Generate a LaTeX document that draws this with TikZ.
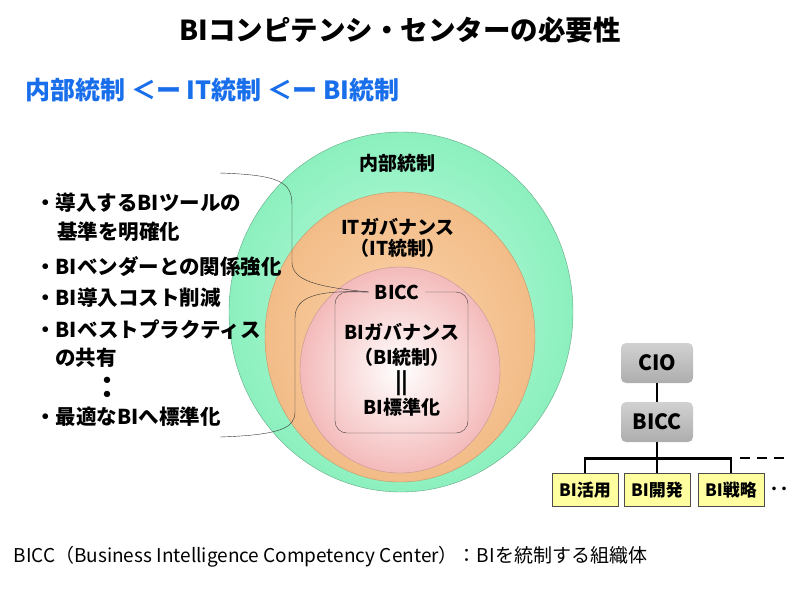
\documentclass[tikz,border=0pt]{standalone}
\usepackage{fontspec}
\setmainfont{Noto Sans CJK JP}
\definecolor{mint}{RGB}{140,240,190}
\definecolor{mintlight}{RGB}{190,252,222}
\definecolor{peach}{RGB}{242,188,135}
\definecolor{peachlight}{RGB}{252,212,172}
\definecolor{rose}{RGB}{244,186,186}
\definecolor{chainblue}{RGB}{25,110,235}
\definecolor{unityellow}{RGB}{255,255,160}

\begin{document}
\begin{tikzpicture}[x=1pt,y=-1pt,
    circlbl/.style={font=\bfseries\fontsize{19}{21}\selectfont, align=center},
    item/.style={anchor=west, inner sep=0pt, font=\bfseries\fontsize{20.5}{22}\selectfont},
    orgbox/.style={top color=black!18, bottom color=black!32, rounded corners=5pt,
        minimum width=72, minimum height=40, font=\bfseries\fontsize{21}{24}\selectfont},
    unitbox/.style={draw=black!70, fill=unityellow, minimum width=66, minimum height=33,
        inner sep=1pt, font=\bfseries\fontsize{17}{20}\selectfont},
    orgline/.style={line width=2.5pt}]
    \useasboundingbox (0,0) rectangle (800,600);

    % headings
    \node[font=\bfseries\fontsize{27.5}{30}\selectfont] (title) at (400,30) {BIコンピテンシ・センターの必要性};
    \node[anchor=west, text=chainblue, font=\bfseries\fontsize{25}{28}\selectfont] (chain) at (22,90) {内部統制\ ＜ー\ IT統制\ ＜ー\ BI統制};

    % nested circles
    \shade[inner color=mintlight, outer color=mint] (401,312) ellipse [x radius=172, y radius=180];
    \draw[mint!70!black, line width=0.4pt] (401,312) ellipse [x radius=172, y radius=180];
    \shade[inner color=peachlight, outer color=peach] (400,337) ellipse [x radius=135, y radius=145];
    \draw[peach!80!black, line width=0.4pt] (400,337) ellipse [x radius=135, y radius=145];
    \shade[inner color=white, outer color=rose] (400,370) ellipse [x radius=100, y radius=103];
    \draw[rose!80!black, line width=0.4pt] (400,370) ellipse [x radius=100, y radius=103];

    \node[circlbl] (naibu) at (397,163) {内部統制};
    \node[circlbl] (itgov) at (398,238) {ITガバナンス\\（IT統制）};
    \node[circlbl, font=\bfseries\fontsize{19}{25}\selectfont] (bigov) at (402,370) {BIガバナンス\\（BI統制）\\{\fontsize{22}{22}\selectfont|\kern-1pt|}\\BI標準化};

    % BICC frame
    \node[circlbl, inner sep=6pt] (bicc) at (397,292) {BICC};
    \draw[black!75, rounded corners=12] (bicc.east) -- (468,292) -- (468,433) -- (335,433) -- (335,292) -- (bicc.west);

    % list of roles
    \node[item] (i1) at (35,203) {・導入するBIツールの};
    \node[item] (i1b) at (57,232) {基準を明確化};
    \node[item] (i2) at (35,267) {・BIベンダーとの関係強化};
    \node[item] (i3) at (35,298) {・BI導入コスト削減};
    \node[item] (i4) at (35,330) {・BIベストプラクティス};
    \node[item] (i4b) at (55,358) {の共有};
    \node[font=\bfseries\fontsize{30}{30}\selectfont] (idots) at (107,388) {：};
    \node[item] (i5) at (35,417) {・最適なBIへ標準化};

    % brace to BICC
    \coordinate (bracetop) at (220,173);
    \coordinate (bracebot) at (220,437);
    \draw[black!80] (bracetop) .. controls (280,175) and (292,182) .. (292,205) -- (292,262)
        .. controls (292,281) and (318,287) .. (bicc.west);
    \draw[black!80] (bicc.west) .. controls (318,290) and (295,296) .. (295,318) -- (295,412)
        .. controls (295,428) and (280,435) .. (bracebot);

    % org chart
    \node[orgbox] (cio) at (657,363) {CIO};
    \node[orgbox] (bicc2) at (657,422) {BICC};
    \node[unitbox] (katsuyo) at (585,490) {BI活用};
    \node[unitbox] (kaihatsu) at (657,490) {BI開発};
    \node[unitbox] (senryaku) at (731,490) {BI戦略};
    \coordinate (busend) at (787,458);
    \draw[orgline] (cio.south) -- (bicc2.north);
    \draw[orgline] (bicc2.south) -- (kaihatsu.north);
    \draw[orgline] (katsuyo.north) -- ++(0,-15) -| (senryaku.north);
    \draw[orgline, dash pattern=on 10pt off 7pt] (senryaku.north |- busend) ++(9,0) -- (busend);
    \node[font=\bfseries\fontsize{20}{20}\selectfont] (more) at (779,492) {‥};

    % footnote
    \node[anchor=west, font=\fontsize{19}{21}\selectfont] (note) at (10,557) {BICC（Business Intelligence Competency Center）：BIを統制する組織体};
\end{tikzpicture}
\end{document}
